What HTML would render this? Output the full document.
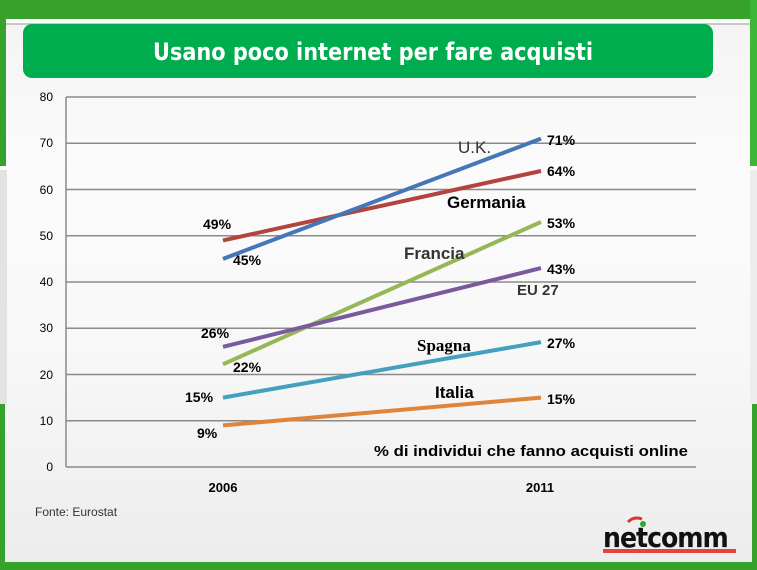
<!DOCTYPE html>
<html><head><meta charset="utf-8"><style>
html,body{margin:0;padding:0;width:757px;height:570px;overflow:hidden;background:#fff}
svg{display:block}
text{font-family:"Liberation Sans",sans-serif}
</style></head><body>
<svg width="757" height="570" viewBox="0 0 757 570">
<defs>
<linearGradient id="bg" x1="0" y1="0" x2="0" y2="1">
<stop offset="0" stop-color="#f3f3f3"/><stop offset="0.3" stop-color="#fbfbfb"/><stop offset="0.6" stop-color="#f8f8f8"/><stop offset="1" stop-color="#ececec"/>
</linearGradient>
</defs>
<rect x="0" y="0" width="757" height="570" fill="url(#bg)"/>
<rect x="0" y="0" width="757" height="19" fill="#36a22c"/>
<rect x="0" y="19" width="750" height="4" fill="#fff"/>
<rect x="0" y="23" width="750" height="2" fill="#c8c8c8"/>
<rect x="0" y="0" width="6" height="166" fill="#36a22c"/>
<rect x="750" y="0" width="7" height="166" fill="#3db535"/>
<rect x="0" y="170" width="7" height="234" fill="#e2e4e2"/>
<rect x="750" y="170" width="7" height="234" fill="#ededed"/>
<rect x="0" y="404" width="5" height="166" fill="#36a22c"/>
<rect x="752" y="404" width="5" height="166" fill="#36a22c"/>
<rect x="0" y="562" width="757" height="8" fill="#36a22c"/>
<rect x="23" y="24" width="690" height="54" rx="9" fill="#00ad4e"/>
<text x="153" y="60" textLength="440" lengthAdjust="spacingAndGlyphs" font-size="24" font-weight="bold" fill="#fff" style="font-family:'DejaVu Sans Condensed','DejaVu Sans',sans-serif">Usano poco internet per fare acquisti</text>
<g stroke="#8a8a8a" stroke-width="1.5">
<line x1="66" y1="97" x2="696" y2="97"/>
<line x1="66" y1="143.3" x2="696" y2="143.3"/>
<line x1="66" y1="189.5" x2="696" y2="189.5"/>
<line x1="66" y1="235.8" x2="696" y2="235.8"/>
<line x1="66" y1="282" x2="696" y2="282"/>
<line x1="66" y1="328.3" x2="696" y2="328.3"/>
<line x1="66" y1="374.5" x2="696" y2="374.5"/>
<line x1="66" y1="420.8" x2="696" y2="420.8"/>
<line x1="66" y1="467" x2="696" y2="467"/>
<line x1="66" y1="97" x2="66" y2="467"/>
</g>
<g font-size="12" fill="#000" text-anchor="end">
<text x="53" y="101">80</text><text x="53" y="147">70</text><text x="53" y="194">60</text><text x="53" y="240">50</text><text x="53" y="286">40</text><text x="53" y="332">30</text><text x="53" y="379">20</text><text x="53" y="425">10</text><text x="53" y="471">0</text>
</g>
<g font-size="13" font-weight="bold" text-anchor="middle">
<text x="223" y="492">2006</text><text x="540" y="492">2011</text>
</g>
<g stroke-width="4" stroke-linecap="butt" fill="none">
<line x1="223" y1="425.4" x2="541" y2="397.6" stroke="#e0843a"/>
<line x1="223" y1="397.6" x2="541" y2="342.1" stroke="#44a0be"/>
<line x1="223" y1="364.3" x2="541" y2="221.9" stroke="#95b756"/>
<line x1="223" y1="346.8" x2="541" y2="268.1" stroke="#7a5a9c"/>
<line x1="223" y1="240.4" x2="541" y2="171" stroke="#b2433f"/>
<line x1="223" y1="258.9" x2="541" y2="138.6" stroke="#4576b5"/>
</g>
<g font-size="14" font-weight="bold" fill="#000">
<text x="547" y="145">71%</text>
<text x="547" y="176">64%</text>
<text x="547" y="228">53%</text>
<text x="547" y="274">43%</text>
<text x="547" y="348">27%</text>
<text x="547" y="404">15%</text>
<text x="203" y="229">49%</text>
<text x="233" y="265">45%</text>
<text x="201" y="338">26%</text>
<text x="233" y="372">22%</text>
<text x="185" y="402">15%</text>
<text x="197" y="438">9%</text>
</g>
<text x="458" y="153" font-size="17" fill="#333">U.K.</text>
<text x="447" y="208" font-size="17" font-weight="bold" fill="#000">Germania</text>
<text x="404" y="259" font-size="17" font-weight="bold" fill="#333">Francia</text>
<text x="517" y="295" font-size="15" font-weight="bold" fill="#333">EU 27</text>
<text x="417" y="351" font-size="17" font-weight="bold" fill="#000" style="font-family:'Liberation Serif',serif">Spagna</text>
<text x="435" y="398" font-size="17" font-weight="bold" fill="#000">Italia</text>
<text x="374" y="456" font-size="15" font-weight="bold" fill="#000" textLength="314" lengthAdjust="spacingAndGlyphs">% di individui che fanno acquisti online</text>
<text x="35" y="516" font-size="12" fill="#333">Fonte: Eurostat</text>
<text x="603" y="547" font-size="28" font-weight="bold" fill="#111" style="font-family:'DejaVu Sans Condensed',sans-serif;letter-spacing:-1px">netcomm</text>
<path d="M628 522 q6 -6 14 -3" stroke="#d33" stroke-width="3" fill="none"/>
<circle cx="643" cy="524" r="3" fill="#3a3"/>
<rect x="603" y="549" width="133" height="4" fill="#e4443a"/>
</svg>
</body></html>
